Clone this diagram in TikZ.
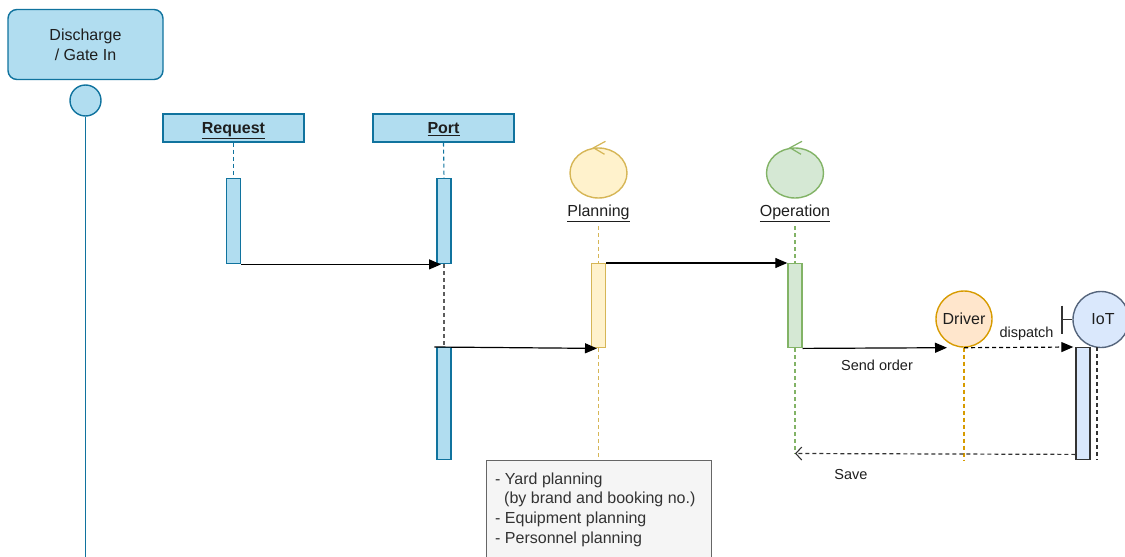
\documentclass[tikz,border=0pt]{standalone}
\usepackage{fontspec}
\setmainfont{Liberation Sans}
\usetikzlibrary{arrows.meta,shapes.geometric}
\definecolor{blueFill}{HTML}{B1DDF0}
\definecolor{blueLine}{HTML}{10739E}
\definecolor{yelFill}{HTML}{FFF2CC}
\definecolor{yelLine}{HTML}{D6B656}
\definecolor{grnFill}{HTML}{D5E8D4}
\definecolor{grnLine}{HTML}{82B366}
\definecolor{orFill}{HTML}{FFE6CC}
\definecolor{orLine}{HTML}{D79B00}
\definecolor{iotFill}{HTML}{DAE8FC}
\definecolor{iotLine}{HTML}{55657C}
\definecolor{txt}{HTML}{1E1E1E}
\definecolor{noteFill}{HTML}{F5F5F5}
\definecolor{noteLine}{HTML}{666666}
\definecolor{darkLine}{HTML}{333333}
\begin{document}
\begin{tikzpicture}[x=1pt,y=-1pt,
  font=\fontsize{16}{19.6}\selectfont,
  every node/.style={text=txt},
  line width=1.4pt,
  actbar/.style={draw, rectangle, inner sep=0pt, minimum width=14pt, minimum height=#1, anchor=north},
  headbox/.style={draw=blueLine, fill=blueFill, rectangle, inner sep=0pt, minimum width=141pt, minimum height=28pt},
  headtext/.style={anchor=base, inner sep=0pt, font=\fontsize{16}{19.6}\selectfont\bfseries},
  ctrl/.style={draw, ellipse, inner sep=0pt, minimum width=57pt, minimum height=50pt},
  roundactor/.style={draw, circle, inner sep=0pt, minimum size=56pt},
  life/.style={line width=1.1pt, dash pattern=on 4pt off 3pt},
  msg/.style={draw=black, line width=1.2pt, -{Triangle[length=12pt,width=10pt]}},
  ret/.style={draw=darkLine, line width=1.2pt, dash pattern=on 4pt off 3pt, -{Straight Barb[length=6pt,width=13pt,line width=1.1pt]}},
  lbl/.style={inner sep=1pt, font=\fontsize{14.5}{17}\selectfont}]
\useasboundingbox (0,0) rectangle (1125,557);

% start event
\node[draw=blueLine, fill=blueFill, rounded corners=9pt, minimum width=155pt, minimum height=70pt, align=center] (gate) at (85.5,44.5) {Discharge\\/ Gate In};
\node[draw=blueLine, fill=blueFill, circle, minimum size=31pt, inner sep=0pt] (gatedot) at (85.5,100.5) {};
\coordinate (gateend) at (85.5,570);
\draw[blueLine, line width=1.2pt] (gatedot.south) -- (gateend);

% heads
\node[headbox] (request) at (233.5,128) {};
\node[headbox] (port) at (443.5,128) {};
\node[headtext] (requestlbl) at (233.5,133.5) {\underline{Request}};
\node[headtext] (portlbl) at (443.5,133.5) {\underline{Port}};

\node[ctrl, draw=yelLine, fill=yelFill] (plan) at (598.5,173) {};
\node[ctrl, draw=grnLine, fill=grnFill] (oper) at (795,173) {};
\draw[yelLine, line width=1.2pt] (plan.north) ++(7,-6) -- ++(-12,6.5) -- ++(11,6.5);
\draw[grnLine, line width=1.2pt] (oper.north) ++(7,-6) -- ++(-12,6.5) -- ++(11,6.5);
\node[anchor=base, inner sep=0pt] (planlbl) at (598.5,216) {\underline{Planning}};
\node[anchor=base, inner sep=0pt] (operlbl) at (795,216) {\underline{Operation}};

\node[roundactor, draw=orLine, fill=orFill] (driver) at (964,319) {Driver};
\node[roundactor, draw=iotLine, fill=iotFill] (iot) at (1101,319.5) {\hspace*{4pt}IoT};
\coordinate (bnd) at (1062,319.5);
\draw[darkLine] (iot.west) -- (bnd);
\draw[darkLine] ([yshift=14pt]bnd) -- ([yshift=-14pt]bnd);

% activation bars
\node[actbar=85pt, draw=blueLine, fill=blueFill] (reqbar) at (233.5,178) {};
\node[actbar=85pt, draw=blueLine, fill=blueFill] (portbar1) at (444,178) {};
\node[actbar=112pt, draw=blueLine, fill=blueFill] (portbar2) at (444,347) {};
\node[actbar=84pt, draw=yelLine, fill=yelFill] (planbar) at (598.5,263) {};
\node[actbar=84pt, draw=grnLine, fill=grnFill] (operbar) at (795,263) {};
\node[actbar=112pt, draw=darkLine, fill=iotFill] (iotbar) at (1083,347) {};

% note
\node[draw=noteLine, fill=noteFill, line width=1.1pt, rectangle, anchor=north west, minimum width=225pt, minimum height=120pt, inner sep=0pt] (note) at (486,459.5) {};
\node[anchor=north west, align=left, inner sep=0pt, text=darkLine] (notetext) at (494.5,472)
  {- Yard planning\\\hspace*{9pt}(by brand and booking no.)\\- Equipment planning\\- Personnel planning};

% lifelines
\coordinate (planend) at (598.5,459);
\coordinate (operend) at (795,453.5);
\coordinate (driverend) at (964,460);
\coordinate (iotend) at (1097,460);
\coordinate (iottop) at (1097,347);
\draw[life, blueLine] (request.south) -- (reqbar.north);
\draw[life, blueLine] (port.south) -- (portbar1.north);
\draw[life, darkLine!80] (portbar1.south) -- (portbar2.north);
\draw[life, yelLine] (planlbl.south) ++(0,4) -- (planbar.north);
\draw[life, yelLine] (planbar.south) -- (planend);
\draw[life, grnLine] (operlbl.south) ++(0,4) -- (operbar.north);
\draw[life, grnLine] (operbar.south) -- (operend);
\draw[life, orLine] (driver.south) -- (driverend);
\draw[life, darkLine] (iottop) -- (iotend);

% messages
\draw[msg] (reqbar.south east) -- ([xshift=-3pt]portbar1.south);
\draw[msg] ([xshift=-2pt]portbar2.north west) -- ([xshift=-1.5pt]planbar.south);
\draw[msg] (planbar.north east) -- (operbar.north west);
\draw[msg] (operbar.south east) -- ([xshift=-17pt]driver.south);
\draw[msg, dash pattern=on 4pt off 3pt] (driver.south) -- ([xshift=-2pt]iotbar.north west);
\draw[ret] ([yshift=6pt]iotbar.south west) -- (operend);

% message labels
\node[lbl] (sendlbl) at (877,365) {Send order};
\node[lbl] (displbl) at (1026.5,334) {dispatch};
\node[lbl] (savelbl) at (851,474.5) {Save};
\end{tikzpicture}
\end{document}
